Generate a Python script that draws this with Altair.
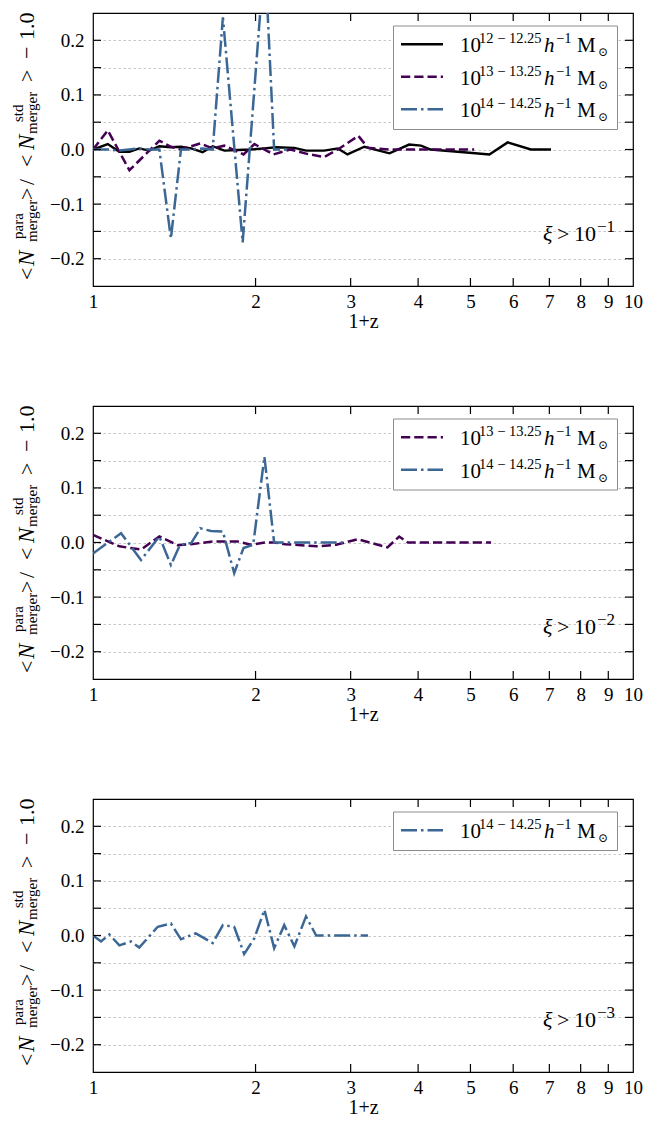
import altair as alt
import pandas as pd

SERIF = "Liberation Serif"
W, H = 540, 273

# ---------------- data ----------------
p1_m12_x = [1.0, 1.065, 1.119, 1.168, 1.218, 1.271, 1.327, 1.394, 1.455, 1.519, 1.596, 1.666,
            1.751, 1.853, 1.962, 2.077, 2.182, 2.36, 2.48, 2.68, 2.84, 2.96, 3.18, 3.54, 3.85,
            4.05, 4.22, 4.86, 5.42, 5.86, 6.47, 7.05]
p1_m12_y = [0.0, 0.010, -0.004, -0.004, 0.002, -0.002, 0.006, 0.004, 0.005, 0.002, -0.005, 0.006,
            -0.002, -0.001, 0.0, 0.002, 0.004, 0.003, -0.002, -0.002, 0.002, -0.009, 0.005, -0.007,
            0.009, 0.007, 0.0, -0.005, -0.009, 0.013, 0.0, 0.0]

p1_m13_x = [1.0, 1.065, 1.168, 1.327, 1.394, 1.455, 1.58, 1.666, 1.751, 1.90, 1.99, 2.16, 2.32,
            2.49, 2.68, 2.84, 3.10, 3.23, 3.54, 3.88, 4.35, 4.74, 5.08]
p1_m13_y = [0.0, 0.035, -0.038, 0.016, 0.005, 0.0, 0.011, 0.002, 0.007, -0.009, 0.010, -0.009, 0.0,
            -0.008, -0.014, 0.0, 0.025, 0.003, 0.0, 0.0, 0.0, 0.0, 0.0]

p1_m14_x = [1.0, 1.065, 1.119, 1.168, 1.218, 1.271, 1.327, 1.394, 1.455, 1.519, 1.596, 1.666,
            1.74, 1.893, 2.08, 2.165, 2.25, 2.3]
p1_m14_y = [0.0, 0.0, -0.002, 0.0, 0.002, 0.0, 0.0, -0.163, 0.0, 0.0, 0.002, 0.0,
            0.242, -0.17, 0.36, 0.0, 0.0, 0.0]

p2_m13_x = [1.0, 1.119, 1.227, 1.327, 1.435, 1.52, 1.67, 1.75, 1.85, 1.96, 2.08, 2.16, 2.27,
            2.6, 2.82, 3.09, 3.51, 3.69, 3.83, 4.3, 4.9, 5.46]
p2_m13_y = [0.014, -0.007, -0.013, 0.011, -0.005, -0.003, 0.002, 0.002, 0.002, -0.004, 0.0, 0.0,
            -0.003, -0.007, -0.004, 0.006, -0.009, 0.011, 0.0, 0.0, 0.0, 0.0]

p2_m14_x = [1.0, 1.127, 1.227, 1.327, 1.394, 1.45, 1.52, 1.58, 1.654, 1.74, 1.826, 1.90, 1.98,
            2.077, 2.165, 2.4, 2.6, 2.9]
p2_m14_y = [-0.02, 0.017, -0.032, 0.011, -0.041, -0.004, -0.001, 0.026, 0.021, 0.02, -0.056,
            -0.01, -0.004, 0.157, 0.0, 0.0, 0.0, 0.0]

p3_m14_x = [1.0, 1.035, 1.072, 1.119, 1.176, 1.218, 1.318, 1.394, 1.455, 1.55, 1.666, 1.74,
            1.826, 1.905, 1.99, 2.077, 2.165, 2.26, 2.36, 2.48, 2.59, 2.8, 3.0, 3.23]
p3_m14_y = [0.0, -0.011, 0.002, -0.018, -0.011, -0.022, 0.016, 0.022, -0.007, 0.004, -0.014,
            0.019, 0.016, -0.034, -0.005, 0.047, -0.023, 0.019, -0.020, 0.035, 0.0, 0.0, 0.0, 0.0]

mass_keys = ["12", "13", "14"]
mass_sup = ["12 \u2212 12.25", "13 \u2212 13.25", "14 \u2212 14.25"]
xi_exps = ["\u22121", "\u22122", "\u22123"]

x_tick_minor = [2, 3, 4, 5, 6, 7, 8, 9]
x_tick_labels = [1, 2, 3, 4, 5, 6, 7, 8, 9, 10]
y_ticks = [-0.2, -0.15, -0.1, -0.05, 0.0, 0.05, 0.1, 0.15, 0.2]

# ---------------- styles ----------------
COL = {"12": "#000000", "13": "#440154", "14": "#3b6795"}
DASH = {"13": [9.25, 4], "14": [16, 4, 2.5, 4]}
LW = {"12": 2.4, "13": 2.5, "14": 2.5}
SUP = dict(zip(mass_keys, mass_sup))

one = pd.DataFrame({"k": [0]})

xscale = alt.Scale(type="log", domain=[1, 10], nice=False)
yscale = alt.Scale(domain=[-0.25, 0.25], nice=False, zero=False)
xaxis = alt.Axis(values=x_tick_labels, labelExpr="format(datum.value, 'd')", grid=False,
                 ticks=False, domain=False, labelFlush=False, labelOverlap=False,
                 labelBound=False, labelFont=SERIF, labelFontSize=19, labelColor="black",
                 labelPadding=6, title="1+z", titleFont=SERIF, titleFontSize=20,
                 titleFontWeight="normal", titleColor="black", titlePadding=0)
yaxis = alt.Axis(values=y_ticks,
                 labelExpr="abs(datum.value*10 - round(datum.value*10)) < 0.001 ? "
                           "replace(format(datum.value, '.1f'), '-', '\u2212') : ''",
                 grid=True, gridDash=[2.5, 2.5], gridColor="#b8b8b8", gridWidth=0.8,
                 ticks=False, domain=False, labelFont=SERIF, labelFontSize=19,
                 labelColor="black", labelPadding=9, title=None)


def txt(s, x, y, size, italic=False, angle=0, font=SERIF):
    kw = dict(text=s, align="left", baseline="alphabetic", fontSize=size, font=font,
              fontStyle="italic" if italic else "normal", color="black")
    if angle:
        kw["angle"] = angle
    return alt.Chart(one).mark_text(**kw).encode(x=alt.value(x), y=alt.value(y))


def line_layer(xs, ys, key):
    df = pd.DataFrame({"x": xs, "y": ys})
    kw = dict(clip=True, color=COL[key], strokeWidth=LW[key])
    if key in DASH:
        kw["strokeDash"] = DASH[key]
    return alt.Chart(df).mark_line(**kw).encode(
        x=alt.X("x:Q", scale=xscale, axis=xaxis),
        y=alt.Y("y:Q", scale=yscale, axis=yaxis))


def tick_layers():
    xt = pd.DataFrame({"x": x_tick_minor})
    yt = pd.DataFrame({"y": y_ticks})
    out = []
    for a, b in [(H, H - 8), (0, 8)]:
        out.append(alt.Chart(xt).mark_rule(color="black", strokeWidth=1.2).encode(
            x=alt.X("x:Q", scale=xscale, axis=xaxis), y=alt.value(a), y2=alt.value(b)))
    for a, b in [(0, 8), (W - 8, W)]:
        out.append(alt.Chart(yt).mark_rule(color="black", strokeWidth=1.2).encode(
            y=alt.Y("y:Q", scale=yscale, axis=yaxis), x=alt.value(a), x2=alt.value(b)))
    return out


def legend_layers(keys):
    n = len(keys)
    out = [alt.Chart(one).mark_rect(fill="white", stroke="#8c8c8c", strokeWidth=1).encode(
        x=alt.value(300.5), x2=alt.value(524.5), y=alt.value(13), y2=alt.value(13 + 32.5 * n + 6))]
    for i, key in enumerate(keys):
        ly = 31.3 + 32.5 * i
        kw = dict(color=COL[key], strokeWidth=LW[key])
        if key in DASH:
            kw["strokeDash"] = DASH[key]
        out.append(alt.Chart(one).mark_rule(**kw).encode(
            x=alt.value(308), x2=alt.value(350), y=alt.value(ly)))
        tb = ly + 8
        out += [txt("10", 367, tb, 21), txt(SUP[key], 386, tb - 9, 14.5),
                txt("h", 451, tb, 21, italic=True), txt("\u22121", 463, tb - 9, 14.5),
                txt("M", 484, tb, 21), txt("\u2299", 505, tb + 4, 12, font="DejaVu Serif")]
    return out


def ytitle_layers():
    A = 270
    pieces = [("<", 267, 22, -59, False), ("N", 253, 23, -59, True),
              ("para", 226, 15, -70, False), ("merger", 229, 15, -56, False),
              (">", 187, 22, -59, False), ("/", 172, 22, -59, False),
              ("<", 154, 22, -59, False), ("N", 137, 23, -59, True),
              ("std", 109, 15, -70, False), ("merger", 121, 15, -56, False),
              (">", 69, 22, -59, False), ("\u2212", 46, 22, -59, False),
              ("1.0", 27, 22, -59, False)]
    return [txt(s, x, y, fs, italic=it, angle=A) for s, y, fs, x, it in pieces]


def panel(series, keys, exp, bottom):
    layers = [line_layer(xs, ys, k) for xs, ys, k in series]
    layers += tick_layers()
    layers += legend_layers(keys)
    layers += [txt("\u03be", 450, 228, 22, italic=True), txt(">", 464, 228, 22),
               txt("10", 481, 228, 22), txt(exp, 504, 219, 17)]
    layers += ytitle_layers()
    layers.append(alt.Chart(one).mark_rule(opacity=0).encode(
        x=alt.value(-84), y=alt.value(-4), y2=alt.value(bottom)))
    return alt.layer(*layers).properties(width=W, height=H)


p1 = panel([(p1_m12_x, p1_m12_y, "12"), (p1_m13_x, p1_m13_y, "13"), (p1_m14_x, p1_m14_y, "14")],
           ["12", "13", "14"], xi_exps[0], H + 113.5)
p2 = panel([(p2_m13_x, p2_m13_y, "13"), (p2_m14_x, p2_m14_y, "14")],
           ["13", "14"], xi_exps[1], H + 113.5)
p3 = panel([(p3_m14_x, p3_m14_y, "14")], ["14"], xi_exps[2], H + 45)

chart = alt.vconcat(p1, p2, p3, spacing=0).properties(padding=0).configure_view(
    stroke="black", strokeWidth=1.2)

chart.save("out.html", embed_options={"renderer": "svg", "actions": False})
